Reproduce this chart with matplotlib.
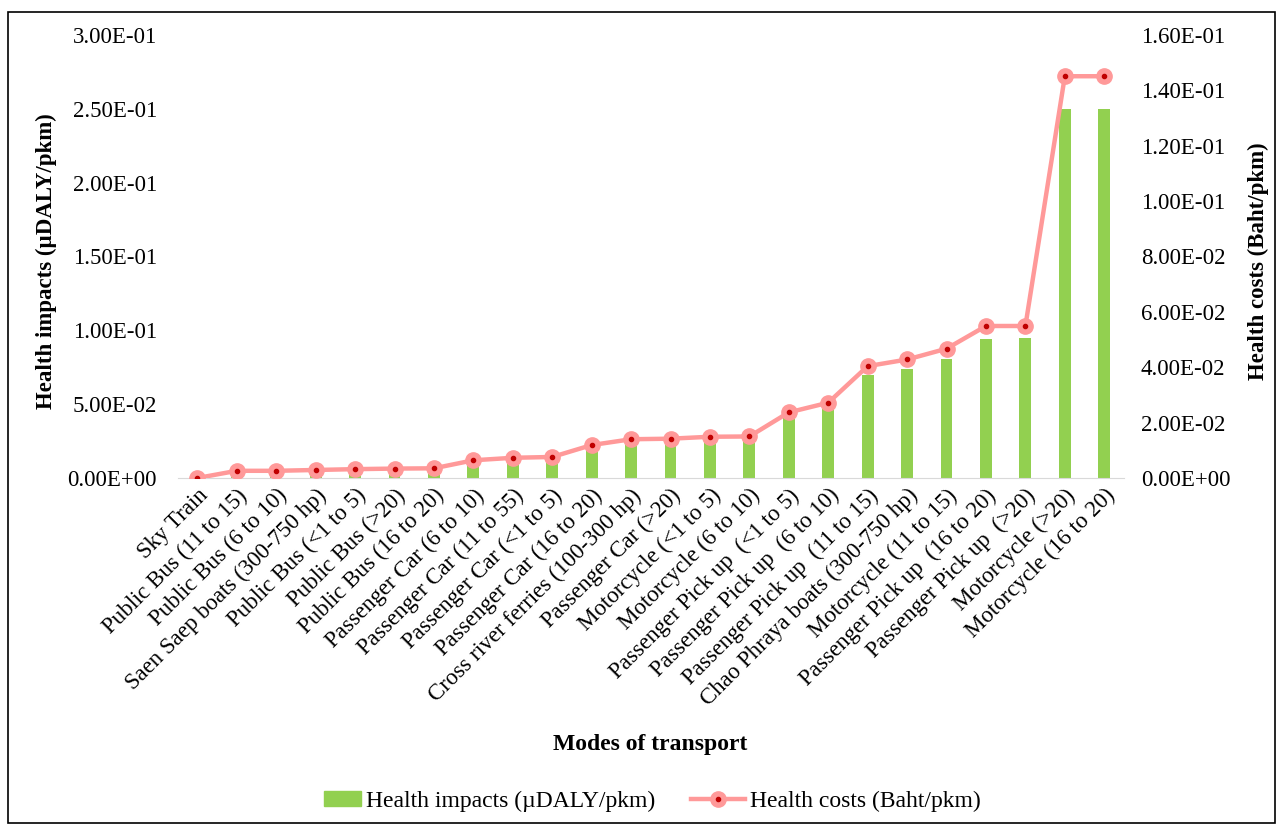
import numpy as np
import matplotlib.pyplot as plt
from matplotlib.patches import Rectangle
from matplotlib.legend_handler import HandlerTuple, HandlerPatch
from matplotlib.ticker import FuncFormatter

plt.rcParams['font.family'] = ['Liberation Serif', 'DejaVu Serif']

modes = ["Sky Train", "Public Bus (11 to 15)", "Public Bus (6 to 10)",
         "Saen Saep boats (300-750 hp)", "Public Bus (<1 to 5)", "Public Bus (>20)",
         "Public Bus (16 to 20)", "Passenger Car (6 to 10)", "Passenger Car (11 to 55)",
         "Passenger Car (<1 to 5)", "Passenger Car (16 to 20)",
         "Cross river ferries (100-300 hp)", "Passenger Car (>20)",
         "Motorcycle (<1 to 5)", "Motorcycle (6 to 10)", "Passenger Pick up  (<1 to 5)",
         "Passenger Pick up  (6 to 10)", "Passenger Pick up  (11 to 15)",
         "Chao Phraya boats (300-750 hp)", "Motorcycle (11 to 15)",
         "Passenger Pick up  (16 to 20)", "Passenger Pick up  (>20)",
         "Motorcycle (>20)", "Motorcycle (16 to 20)"]

# health impacts, uDALY per pkm (left axis)
impacts = [0.0, 0.0045, 0.0045, 0.0050, 0.0055, 0.0058, 0.0060, 0.0110, 0.0126,
           0.0131, 0.0205, 0.0241, 0.0244, 0.0256, 0.0258, 0.0408, 0.0470, 0.0697,
           0.0738, 0.0806, 0.0943, 0.0946, 0.2496, 0.2496]

# health costs, Baht per pkm (right axis)
costs = [0.0, 0.0026, 0.0026, 0.0029, 0.0032, 0.0034, 0.0035, 0.0064, 0.0073,
         0.0076, 0.0119, 0.0140, 0.0142, 0.0149, 0.0150, 0.0237, 0.0272, 0.0404,
         0.0428, 0.0467, 0.0549, 0.0549, 0.1451, 0.1451]

left_ticks = [0, 0.05, 0.10, 0.15, 0.20, 0.25, 0.30]
right_ticks = [0, 0.02, 0.04, 0.06, 0.08, 0.10, 0.12, 0.14, 0.16]

sci = FuncFormatter(lambda v, p: "%.2E" % v)

fig = plt.figure(figsize=(12.8, 8.25), dpi=100)
ax = fig.add_axes([0.1388, 0.4206, 0.7393, 0.5370])
ax2 = ax.twinx()

x = np.arange(len(modes))
ax.bar(x, impacts, width=0.3, color='#92D050', zorder=2)

ax2.plot(x, costs, color='#FF9999', lw=3.2, marker='o', ms=11,
         mfc='#FF9999', mec='#FF9999', zorder=3)
ax2.plot(x, costs, ls='none', marker='o', ms=3, color='#C00000', zorder=4)

ax.set_xlim(-0.5, len(modes) - 0.5)
ax.set_ylim(0, 0.30)
ax2.set_ylim(0, 0.16)
ax.set_yticks(left_ticks)
ax2.set_yticks(right_ticks)
ax.yaxis.set_major_formatter(sci)
ax2.yaxis.set_major_formatter(sci)

for a in (ax, ax2):
    for s in a.spines.values():
        s.set_visible(False)
    a.tick_params(length=0, labelsize=16.5)
ax.spines['bottom'].set_visible(True)
ax.spines['bottom'].set_color('#D9D9D9')
ax.tick_params(axis='y', pad=15)
ax2.tick_params(axis='y', pad=12)

ax.set_xticks(x)
ax.set_xticklabels(modes, rotation=45, ha='right', rotation_mode='anchor', fontsize=16.5)
ax.tick_params(axis='x', pad=5)

fig.text(0.036, 0.683, "Health impacts (\u00b5DALY/pkm)", rotation=90, ha='center',
         va='center', fontsize=16.5, fontweight='bold')
fig.text(0.983, 0.683, "Health costs (Baht/pkm)", rotation=90, ha='center',
         va='center', fontsize=16.5, fontweight='bold')
fig.text(0.508, 0.097, "Modes of transport", ha='center', va='center',
         fontsize=17, fontweight='bold')


# narrower swatch for the bar entry
def small_patch(legend, orig_handle, xdescent, ydescent, width, height, fontsize):
    w = width * 0.68
    return Rectangle((width - w - xdescent, -ydescent), w, height)


bar_h = Rectangle((0, 0), 1, 1, color='#92D050')
line_h = plt.Line2D([], [], color='#FF9999', lw=3.2, marker='o', ms=11, mfc='#FF9999', mec='#FF9999')
dot_h = plt.Line2D([], [], ls='none', marker='o', ms=3, color='#C00000')
fig.legend([bar_h, (line_h, dot_h)],
           ["Health impacts (\u00b5DALY/pkm)", "Health costs (Baht/pkm)"],
           handler_map={tuple: HandlerTuple(ndivide=1, pad=0),
                        Rectangle: HandlerPatch(patch_func=small_patch)},
           loc='center', bbox_to_anchor=(0.503, 0.029), ncol=2, frameon=False,
           fontsize=17, handlelength=2.3, handleheight=0.6, handletextpad=0.2,
           columnspacing=1.5)

fig.patches.append(Rectangle((0.006, 0.002), 0.99, 0.984, transform=fig.transFigure,
                             fill=False, ec='black', lw=1.2))

fig.savefig("out.png", dpi=100)
